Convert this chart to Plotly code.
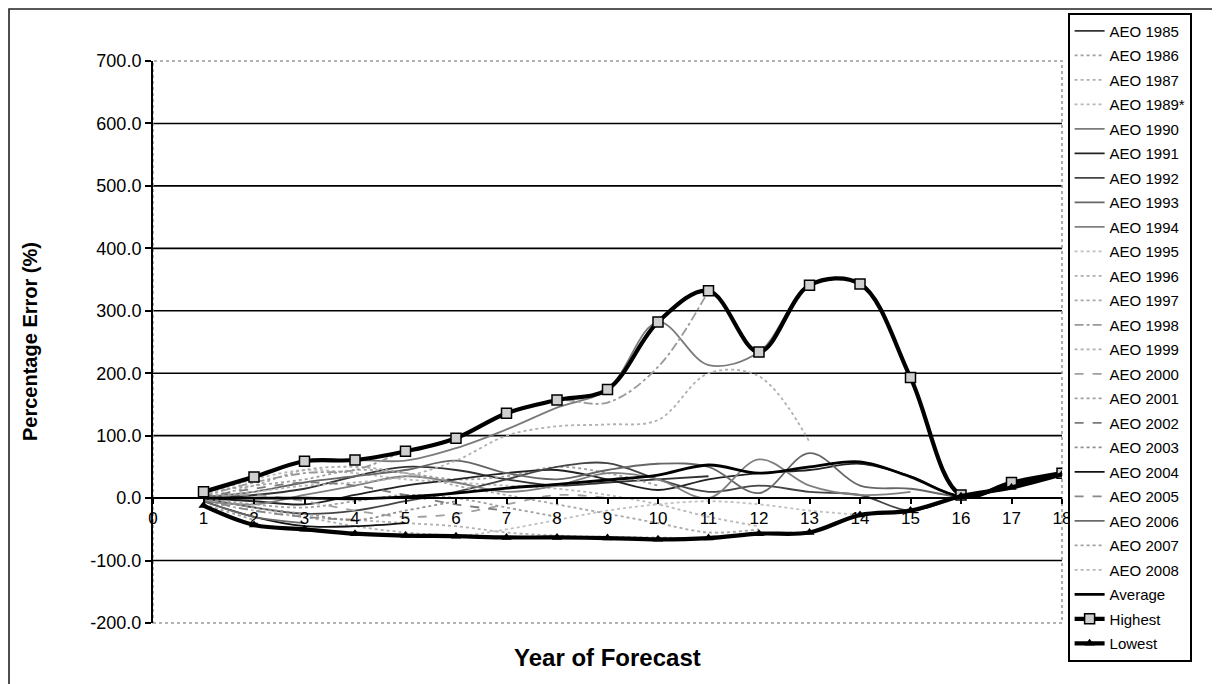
import plotly.graph_objects as go

# ------------------------------------------------------------
# Percentage error of AEO projections by year of forecast
# ------------------------------------------------------------

years = list(range(0, 19))

aeo_1985 = [0, 5, 15, 35, 50, 45, 30, 20, 25, 30, 35]
aeo_1986 = [10, 20, 30, 45, 40, 30, 35, 50, 40, 20]
aeo_1987 = [-5, -20, -30, -35, -40, -45, -55, -60, -62, -63, -64, -57, -55]
aeo_1989 = [5, 30, 45, 40, 30, 25, 20, 15, 5, -10, -30, -45]
aeo_1990 = [8, 34, 59, 61, 60, 80, 110, 145, 174, 282, 213, 234, 341, 343, 193, 5, 25, 40]
aeo_1991 = [0, -5, -10, 5, 20, 30, 40, 45, 30, 13, 30, 40, 45, 55, 35, 3, 20, 38]
aeo_1992 = [0, -15, -25, -20, -5, 10, 30, 50, 56, 30, 10, 20, 10, 5, -20, 3, 16]
aeo_1993 = [2, 10, 25, 35, 45, 60, 40, 30, 45, 55, 50, 8, 72, 20, 15, 0]
aeo_1994 = [-5, -10, 5, 20, 35, 25, 10, 20, 40, 30, 0, 62, 20, 5, 10]
aeo_1995 = [-12, -43, -50, -57, -60, -61, -50, -35, -20, -10, -5, -10, -20, -27]
aeo_1996 = [2, 10, 20, 25, 35, 60, 100, 115, 118, 125, 200, 195, 90]
aeo_1997 = [0, 20, 45, 50, 40, 20, 5, -10, -25, -40, -55, -50]
aeo_1998 = [3, 25, 40, 45, 75, 96, 136, 157, 153, 210, 332]
aeo_1999 = [0, -15, -30, -45, -55, -60, -62, -61, -64, -66]
aeo_2000 = [0, 5, -5, -20, -30, -25, -10, 5, 0]
aeo_2001 = [0, -10, -15, -5, 5, 0, -15, -30]
aeo_2002 = [2, 15, 25, 20, 5, -10, -20]
aeo_2003 = [0, -15, -25, -35, -20, -5]
aeo_2004 = [-5, -30, -45, -45, -40]
aeo_2005 = [-3, -20, -30, -35]
aeo_2006 = [-5, -30, -40]
aeo_2007 = [-10, -35]
aeo_2008 = [-8]

average = [0, 0, 0, -1, 2, 8, 16, 22, 29, 37, 53, 40, 50, 58, 34, 3, 20, 39]
highest = [10, 34, 59, 61, 75, 96, 136, 157, 174, 282, 332, 234, 341, 343, 193, 5, 25, 40]
lowest = [-12, -43, -50, -57, -60, -61, -63, -63, -64, -66, -64, -57, -55, -27, -20, 3, 17, 38]

y_ticks = [-200, -100, 0, 100, 200, 300, 400, 500, 600, 700]
y_ticktext = [f"{v:.1f}" for v in y_ticks]

series = [
    ("AEO 1985", aeo_1985, "#333333", "solid"),
    ("AEO 1986", aeo_1986, "#a0a0a0", "dot"),
    ("AEO 1987", aeo_1987, "#b0b0b0", "dot"),
    ("AEO 1989*", aeo_1989, "#b8b8b8", "dot"),
    ("AEO 1990", aeo_1990, "#7a7a7a", "solid"),
    ("AEO 1991", aeo_1991, "#222222", "solid"),
    ("AEO 1992", aeo_1992, "#444444", "solid"),
    ("AEO 1993", aeo_1993, "#666666", "solid"),
    ("AEO 1994", aeo_1994, "#808080", "solid"),
    ("AEO 1995", aeo_1995, "#c0c0c0", "dot"),
    ("AEO 1996", aeo_1996, "#b0b0b0", "dot"),
    ("AEO 1997", aeo_1997, "#a8a8a8", "dot"),
    ("AEO 1998", aeo_1998, "#999999", "dashdot"),
    ("AEO 1999", aeo_1999, "#b0b0b0", "dot"),
    ("AEO 2000", aeo_2000, "#a0a0a0", "dash"),
    ("AEO 2001", aeo_2001, "#a0a0a0", "dot"),
    ("AEO 2002", aeo_2002, "#7a7a7a", "dash"),
    ("AEO 2003", aeo_2003, "#909090", "dot"),
    ("AEO 2004", aeo_2004, "#111111", "solid"),
    ("AEO 2005", aeo_2005, "#888888", "dash"),
    ("AEO 2006", aeo_2006, "#6a6a6a", "solid"),
    ("AEO 2007", aeo_2007, "#a0a0a0", "dot"),
    ("AEO 2008", aeo_2008, "#b8b8b8", "dot"),
]

FONT = "Arial, 'Liberation Sans', sans-serif"

fig = go.Figure()

for i, (name, vals, color, dash) in enumerate(series):
    fig.add_trace(go.Scatter(
        x=years[1:len(vals) + 1],
        y=vals,
        name=name,
        mode="lines",
        line=dict(color=color, width=1.8, dash=dash, shape="spline", smoothing=1.0),
        legendgroup=f"g{i}",
    ))

fig.add_trace(go.Scatter(
    x=years[1:], y=average, name="Average", mode="lines",
    line=dict(color="#000000", width=2.8, shape="spline", smoothing=1.0),
    legendgroup="avg",
))
fig.add_trace(go.Scatter(
    x=years[1:], y=highest, name="Highest", mode="lines+markers",
    line=dict(color="#000000", width=4.2, shape="spline", smoothing=1.0),
    marker=dict(symbol="square", size=10, color="#cfcfcf",
                line=dict(color="#000000", width=1.5)),
    legendgroup="hi",
))
fig.add_trace(go.Scatter(
    x=years[1:], y=lowest, name="Lowest", mode="lines+markers",
    line=dict(color="#000000", width=4.2, shape="spline", smoothing=1.0),
    marker=dict(symbol="triangle-up", size=9, color="#000000"),
    legendgroup="lo",
))

# horizontal gridlines (the plot border takes the 700 and -200 lines)
shapes = []
for v in y_ticks[1:-1]:
    shapes.append(dict(type="line", xref="paper", x0=0, x1=1, yref="y", y0=v, y1=v,
                       line=dict(color="#000000", width=1.6), layer="below"))
# plot area border
shapes.append(dict(type="rect", xref="paper", yref="paper", x0=0, x1=1, y0=0, y1=1,
                   line=dict(color="#9a9a9a", width=1.6, dash="dot"), layer="below"))
# outer chart frame
shapes.append(dict(type="rect", xref="paper", yref="paper", x0=-0.1584, x1=1.2,
                   y0=-0.15, y1=1.0925, line=dict(color="#222222", width=1.6)))

# page body has an 8px margin, so the figure is 8px smaller than the window
fig.update_layout(
    width=1212,
    height=676,
    margin=dict(l=145, r=158, t=53, b=61, autoexpand=False),
    plot_bgcolor="white",
    paper_bgcolor="white",
    font=dict(family=FONT, color="#000000"),
    shapes=shapes,
    showlegend=True,
    legend=dict(
        x=1.0066, y=1.0854, xanchor="left", yanchor="top",
        bordercolor="#000000", borderwidth=1.6, bgcolor="white",
        font=dict(size=15, family=FONT),
        tracegroupgap=2,
        itemwidth=30,
        maxheight=660,
    ),
    annotations=[
        dict(text="<b>Percentage Error (%)</b>", xref="paper", yref="paper",
             x=-0.1353, y=0.5, xanchor="center", yanchor="middle", textangle=-90,
             showarrow=False, font=dict(size=20, family=FONT)),
        dict(text="<b>Year of Forecast</b>", xref="paper", yref="paper",
             x=0.5, y=-0.0605, xanchor="center", yanchor="middle",
             showarrow=False, font=dict(size=24, family=FONT)),
    ],
)

fig.update_xaxes(
    range=[0, 18], tickvals=years, ticktext=[str(v) for v in years],
    anchor="free", position=200 / 900,
    showline=True, linecolor="#000000", linewidth=1.6,
    ticks="outside", ticklen=5, tickcolor="#000000", tickwidth=1.5,
    showgrid=False, zeroline=False,
    tickfont=dict(size=17, family=FONT),
)
fig.update_yaxes(
    range=[-200, 700], tickvals=y_ticks, ticktext=y_ticktext,
    showline=True, linecolor="#000000", linewidth=2,
    ticks="outside", ticklen=6, tickcolor="#000000", tickwidth=1.5,
    showgrid=False, zeroline=False,
    tickfont=dict(size=18, family=FONT),
)

fig.write_html("out.html")
